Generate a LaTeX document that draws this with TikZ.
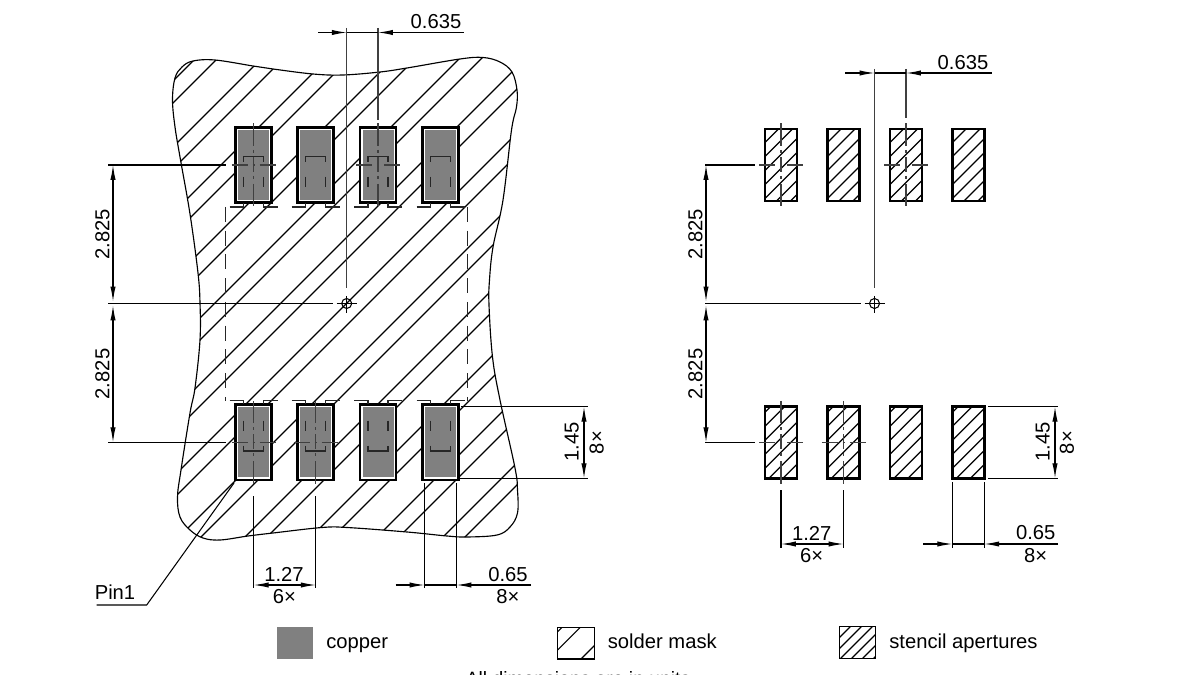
\documentclass[tikz,border=0pt]{standalone}
\usepackage{fontspec}
\setmainfont{Liberation Sans}
\usetikzlibrary{arrows.meta}

\definecolor{copper}{gray}{0.5}
\definecolor{centergray}{gray}{0.25}

\tikzset{
  hatchline/.style={black, line width=0.65pt},
  dimline/.style={black, line width=0.6pt},
  extline/.style={centergray, line width=0.7pt},
  dimarrow/.style={dimline, -{Latex[length=8.5pt,width=3pt]}},
  dimboth/.style={dimline, {Latex[length=8.5pt,width=3pt]}-{Latex[length=8.5pt,width=3pt]}},
  dimtext/.style={inner sep=0pt, font=\fontsize{11.5}{13}\selectfont},
  padline/.style={black, line width=1.5pt},
  maskedge/.style={black, line width=0.65pt},
  hiddenline/.style={black!85, line width=0.6pt},
}

\newcommand{\maskoutline}{plot[smooth cycle, tension=0.6] coordinates {
  (172.5,100) (175,78) (182,67) (193,61) (215,60) (253,66) (273,69) (313,74) (343,75)
  (380,72) (407,68) (460,59) (483,57.5) (500,62) (512,72) (517,90) (516.5,107) (511.5,130)
  (503,200) (493,247) (489.5,280) (489,305) (492.5,357) (500,400) (515,468) (517.5,490)
  (517.5,513) (510,527) (497,535) (467,537) (447,536) (407,532) (347,527.5) (322,527.5)
  (273,533) (248,536) (220,540) (203,538) (190,530) (180,517) (177.5,497) (181,470)
  (190,413) (195,388) (200,340) (200,303) (198,273) (190,214) (180,157) (175,127)}}

\begin{document}
\begin{tikzpicture}[x=0.02cm, y=-0.02cm]
\useasboundingbox (0,0) rectangle (1200,675);
\clip (0,0) rectangle (1200,675);

% solder mask
\begin{scope}
\clip \maskoutline;
\foreach \c in {254,320,...,980} {
  \draw[hatchline] (\c,0) -- ({\c-675},675);
  \draw[hatchline] ({\c+22},0) -- ({\c+22-675},675);
}
\end{scope}
\draw[maskedge] \maskoutline;

% copper pads
\foreach \cx in {253.7,315.7,378,440.5} {
  \foreach \ytop in {126.7,404} {
    \fill[white] (\cx-18.7,\ytop) rectangle (\cx+18.7,\ytop+76.6);
    \fill[copper] (\cx-15.5,\ytop+3.2) rectangle (\cx+15.5,\ytop+73.4);
    \draw[padline] (\cx-18,\ytop+0.7) rectangle (\cx+18,\ytop+75.9);
  }
  % top row outline marks
  \draw[hiddenline] (\cx-10,161.7) -- (\cx-10,156.7) -- (\cx+10,156.7) -- (\cx+10,161.7);
  \draw[hiddenline] (\cx-10,176.7) -- (\cx-10,187.3);
  \draw[hiddenline] (\cx+10,176.7) -- (\cx+10,187.3);
  \draw[hiddenline] (\cx-24,207) -- (\cx-10,207) -- (\cx-10,203.3);
  \draw[hiddenline] (\cx+24,207) -- (\cx+10,207) -- (\cx+10,203.3);
  % bottom row outline marks
  \draw[hiddenline] (\cx-10,445.7) -- (\cx-10,451) -- (\cx+10,451) -- (\cx+10,445.7);
  \draw[hiddenline] (\cx-10,420.7) -- (\cx-10,430.7);
  \draw[hiddenline] (\cx+10,420.7) -- (\cx+10,430.7);
  \draw[hiddenline] (\cx-24,400.7) -- (\cx-10,400.7) -- (\cx-10,404);
  \draw[hiddenline] (\cx+24,400.7) -- (\cx+10,400.7) -- (\cx+10,404);
}

% keepout frame
\draw[hiddenline, dash pattern=on 8.5pt off 5pt] (225.7,207) -- (225.7,400.7);
\draw[hiddenline, dash pattern=on 8.5pt off 5pt] (467.7,207) -- (467.7,400.7);

% stencil pads
\foreach \cx in {781,843.5,906,968.5} {
  \foreach \ytop/\off in {129/0,406.7/6} {
    \begin{scope}
    \clip (\cx-16.5,\ytop) rectangle (\cx+16.5,\ytop+72);
    \foreach \k in {0,...,8} {
      \pgfmathsetmacro\c{\cx-16.5+\ytop+\off+14*\k}
      \draw[hatchline] ({\c-\ytop},\ytop) -- ({\c-\ytop-72},{\ytop+72});
    }
    \end{scope}
    \draw[padline] (\cx-16,\ytop) rectangle (\cx+16,\ytop+72);
  }
}

% centre marks on pads
\foreach \cx/\cy in {253.7/165,378/165,253.7/442.3,315.7/442.3,781/165,906/165,781/442.3,843.5/442.3} {
  \draw[extline] (\cx,\cy-41.5) -- (\cx,\cy-19);
  \draw[extline] (\cx,\cy-15) -- (\cx,\cy-12);
  \draw[extline] (\cx,\cy-8) -- (\cx,\cy+7);
  \draw[extline] (\cx,\cy+11) -- (\cx,\cy+14);
  \draw[extline] (\cx,\cy+19) -- (\cx,\cy+41.5);
  \draw[extline] (\cx-22,\cy) -- (\cx-6,\cy);
  \draw[extline] (\cx-1,\cy) -- (\cx+1,\cy);
  \draw[extline] (\cx+6,\cy) -- (\cx+22,\cy);
}

% centre of the part
\foreach \cx/\xstart/\xdim in {346.7/108/113,874.5/705/706} {
  \draw[extline] (\cx,{\cx==346.7 ? 28 : 69}) -- (\cx,288);
  \draw[dimline] (\xstart,303.5) -- (\cx-14,303.5);
  \draw[dimline] (\cx,303.5) circle [radius=5];
  \draw[dimline] (\cx-10,303.5) -- (\cx+10,303.5);
  \draw[dimline] (\cx,296) -- (\cx,313);
}

% left view
\draw[extline] (378,28) -- (378,120);
\draw[dimline] (346.7,32.5) -- (378,32.5);
\draw[dimarrow] (318.3,32.5) -- (346.7,32.5);
\draw[dimarrow] (463.7,32.5) -- (378,32.5);
\node[dimtext] (pitchA) at (436,22) {0.635};

\draw[dimline] (108,165) -- (226,165);
\draw[dimline] (108,442.3) -- (226,442.3);
\draw[dimboth] (113,165) -- (113,301.5);
\draw[dimboth] (113,305.5) -- (113,442.3);
\node[dimtext, rotate=90] (rowA) at (102.5,234.5) {2.825};
\node[dimtext, rotate=90] (rowB) at (102.5,374) {2.825};

\draw[dimline] (461,406.7) -- (588,406.7);
\draw[dimline] (458,478.3) -- (588,478.3);
\draw[dimboth] (584,406.7) -- (584,478.3);
\node[dimtext, rotate=90] (lenA) at (571.7,441.7) {1.45};
\node[dimtext, rotate=90] (lenAx) at (596.7,442.7) {8×};

\draw[dimline] (253.7,496) -- (253.7,588);
\draw[dimline] (315.7,496) -- (315.7,588);
\draw[dimboth] (253.7,585) -- (315.7,585);
\node[dimtext] (gridA) at (284,574.5) {1.27};
\node[dimtext] (gridAx) at (284.5,597) {6×};

\draw[dimline] (424.5,483) -- (424.5,588);
\draw[dimline] (456.5,483) -- (456.5,588);
\draw[dimline] (424.5,585) -- (456.5,585);
\draw[dimarrow] (395.7,585) -- (424.5,585);
\draw[dimarrow] (531,585) -- (456.5,585);
\node[dimtext] (widthA) at (508,574.5) {0.65};
\node[dimtext] (widthAx) at (508,597) {8×};

\node[dimtext] (pin) at (115,592) {Pin1};
\coordinate (pinEnd) at (234,483);
\draw[dimline] (96.7,605) -- (146.7,605) -- (pinEnd);

% right view
\draw[extline] (906,69) -- (906,118);
\draw[dimline] (874.5,73) -- (906,73);
\draw[dimarrow] (845,73) -- (874.5,73);
\draw[dimarrow] (991.7,73) -- (906,73);
\node[dimtext] (pitchB) at (963,63) {0.635};

\draw[dimline] (705,165) -- (755,165);
\draw[dimline] (705,442.3) -- (755,442.3);
\draw[dimboth] (706,165) -- (706,301.5);
\draw[dimboth] (706,305.5) -- (706,442.3);
\node[dimtext, rotate=90] (rowC) at (695.5,234.5) {2.825};
\node[dimtext, rotate=90] (rowD) at (695.5,374) {2.825};

\draw[dimline] (988,406.7) -- (1058,406.7);
\draw[dimline] (988,478.3) -- (1058,478.3);
\draw[dimboth] (1055,406.7) -- (1055,478.3);
\node[dimtext, rotate=90] (lenB) at (1042.7,441.7) {1.45};
\node[dimtext, rotate=90] (lenBx) at (1067,442.7) {8×};

\draw[dimline] (781,490) -- (781,547.7);
\draw[dimline] (843.5,490) -- (843.5,547.7);
\draw[dimboth] (781,544) -- (843.5,544);
\node[dimtext] (gridB) at (811.7,533) {1.27};
\node[dimtext] (gridBx) at (811.7,555.7) {6×};

\draw[dimline] (952.3,482) -- (952.3,547.7);
\draw[dimline] (984.3,482) -- (984.3,547.7);
\draw[dimline] (952.3,544) -- (984.3,544);
\draw[dimarrow] (923.3,544) -- (952.3,544);
\draw[dimarrow] (1058,544) -- (984.3,544);
\node[dimtext] (widthB) at (1035.7,533) {0.65};
\node[dimtext] (widthBx) at (1035.7,555.7) {8×};

% legend
\fill[copper] (276.7,627) rectangle (313,659);
\node[dimtext, anchor=base west] (legCopper) at (326,648) {copper};

\begin{scope}
\clip (557.7,627.3) rectangle (594.3,659);
\foreach \c in {1189.4,1207.6,1240} {
  \draw[hatchline] ({\c-627.3},627.3) -- ({\c-659},659);
}
\end{scope}
\draw[maskedge] (557.7,627.3) rectangle (594.3,659);
\node[dimtext, anchor=base west] (legMask) at (607.5,648) {solder mask};

\begin{scope}
\clip (839.3,626.7) rectangle (875.7,658.3);
\foreach \k in {0,...,7} {
  \pgfmathsetmacro\c{1466+\k*11-627}
  \draw[hatchline] ({\c+627-626.7},626.7) -- ({\c+627-658.3},658.3);
}
\end{scope}
\draw[maskedge] (839.3,626.7) rectangle (875.7,658.3);
\node[dimtext, anchor=base west] (legStencil) at (889,648) {stencil apertures};

\node[dimtext, font=\fontsize{11}{13}\selectfont, anchor=base] (note) at (578,685.5) {All dimensions are in units};

\end{tikzpicture}
\end{document}
